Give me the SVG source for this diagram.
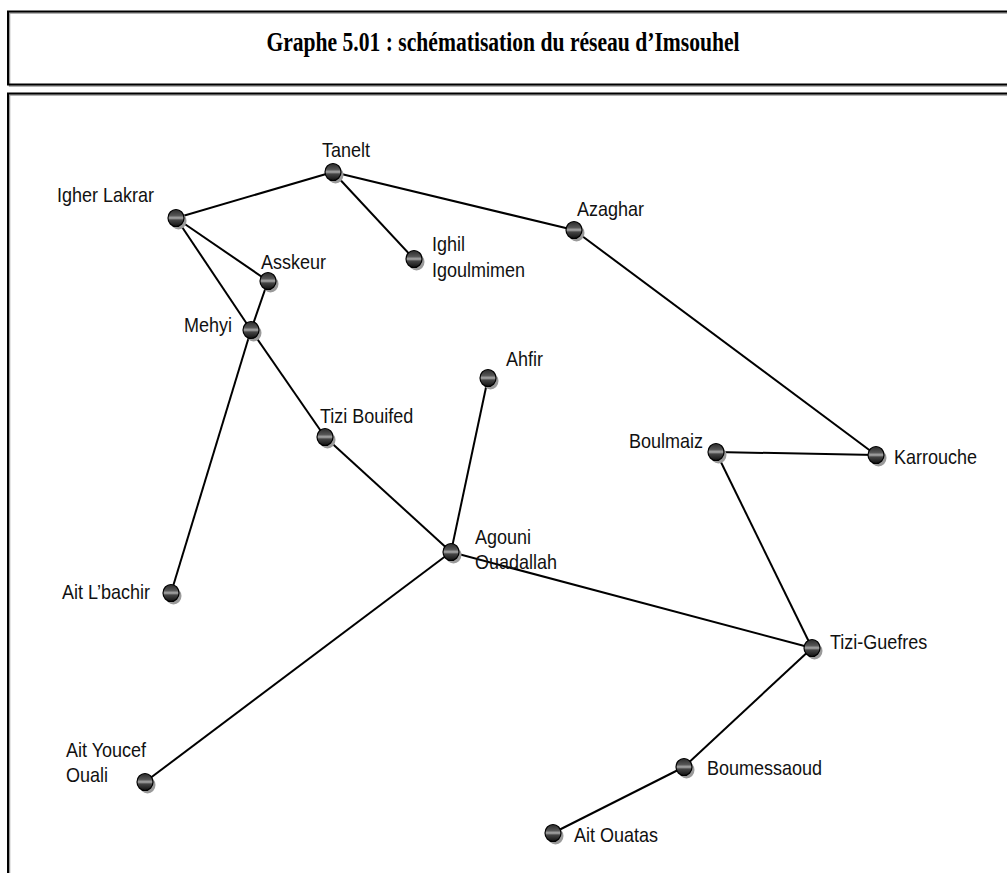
<svg xmlns="http://www.w3.org/2000/svg" width="1007" height="873" viewBox="0 0 1007 873">
<style>
.frame{fill:none;stroke:#000;stroke-width:2}
.frameS{fill:none;stroke:#999;stroke-width:1.5}
.title{font-family:"Liberation Serif","Times New Roman",serif;font-weight:bold;font-size:27px;fill:#000}
.lbl{font-family:"Liberation Sans",Arial,sans-serif;font-size:20px;fill:#111}
#edges line{stroke:#000;stroke-width:2}
.sh{fill:#9a9a9a}
.ball{fill:url(#g);stroke:#000;stroke-width:1.2}
</style>
<defs>
<linearGradient id="g" x1="0" y1="0" x2="0" y2="1">
<stop offset="0" stop-color="#2a2a2a"/>
<stop offset="0.35" stop-color="#555"/>
<stop offset="0.5" stop-color="#aaa"/>
<stop offset="0.62" stop-color="#444"/>
<stop offset="1" stop-color="#111"/>
</linearGradient>
<g id="node"><ellipse class="sh" cx="2.5" cy="3" rx="8" ry="8.5"/><ellipse class="ball" cx="0" cy="0" rx="8" ry="8.5"/></g>
</defs>
<rect width="1007" height="873" fill="#fff"/>
<g id="frame">
<rect class="frameS" x="9.5" y="13" width="1010" height="73"/>
<rect class="frame" x="8" y="11.5" width="1010" height="73"/>
<rect class="frameS" x="9.5" y="95" width="1010" height="800"/>
<rect class="frame" x="8" y="93.5" width="1010" height="800"/>
<text class="title" transform="translate(503,51) scale(0.8,1)" text-anchor="middle">Graphe 5.01 : schématisation du réseau d’Imsouhel</text>
</g>
<g id="edges">
<line x1="176" y1="218" x2="333" y2="172"/>
<line x1="333" y1="172" x2="574" y2="230"/>
<line x1="333" y1="172" x2="414" y2="259"/>
<line x1="176" y1="218" x2="268" y2="281"/>
<line x1="176" y1="218" x2="251" y2="330"/>
<line x1="268" y1="281" x2="251" y2="330"/>
<line x1="251" y1="330" x2="325" y2="437"/>
<line x1="251" y1="330" x2="171" y2="593"/>
<line x1="574" y1="230" x2="876" y2="455"/>
<line x1="876" y1="455" x2="716" y2="452"/>
<line x1="716" y1="452" x2="812" y2="648"/>
<line x1="325" y1="437" x2="451" y2="552"/>
<line x1="488" y1="378" x2="451" y2="552"/>
<line x1="451" y1="552" x2="812" y2="648"/>
<line x1="451" y1="552" x2="145" y2="782"/>
<line x1="812" y1="648" x2="684" y2="767"/>
<line x1="684" y1="767" x2="553" y2="833"/>
</g>
<g id="n-tanelt"><use href="#node" x="333" y="172"/><text class="lbl" transform="translate(322,157) scale(0.9,1)">Tanelt</text></g>
<g id="n-igher"><use href="#node" x="176" y="218"/><text class="lbl" transform="translate(57,202) scale(0.9,1)">Igher Lakrar</text></g>
<g id="n-asskeur"><use href="#node" x="268" y="281"/><text class="lbl" transform="translate(261,269) scale(0.9,1)">Asskeur</text></g>
<g id="n-ighil"><use href="#node" x="414" y="259"/><text class="lbl" transform="translate(432,251) scale(0.9,1)">Ighil</text><text class="lbl" transform="translate(432,277) scale(0.9,1)">Igoulmimen</text></g>
<g id="n-azaghar"><use href="#node" x="574" y="230"/><text class="lbl" transform="translate(577,216) scale(0.9,1)">Azaghar</text></g>
<g id="n-mehyi"><use href="#node" x="251" y="330"/><text class="lbl" transform="translate(184,332) scale(0.9,1)">Mehyi</text></g>
<g id="n-ahfir"><use href="#node" x="488" y="378"/><text class="lbl" transform="translate(506,366) scale(0.9,1)">Ahfir</text></g>
<g id="n-tizibouifed"><use href="#node" x="325" y="437"/><text class="lbl" transform="translate(320,423) scale(0.9,1)">Tizi Bouifed</text></g>
<g id="n-boulmaiz"><use href="#node" x="716" y="452"/><text class="lbl" transform="translate(629,448) scale(0.9,1)">Boulmaiz</text></g>
<g id="n-karrouche"><use href="#node" x="876" y="455"/><text class="lbl" transform="translate(894,464) scale(0.9,1)">Karrouche</text></g>
<g id="n-agouni"><use href="#node" x="451" y="552"/><text class="lbl" transform="translate(475,544) scale(0.9,1)">Agouni</text><text class="lbl" transform="translate(475,569) scale(0.9,1)">Ouadallah</text></g>
<g id="n-aitlbachir"><use href="#node" x="171" y="593"/><text class="lbl" transform="translate(62,599) scale(0.9,1)">Ait L’bachir</text></g>
<g id="n-tiziguefres"><use href="#node" x="812" y="648"/><text class="lbl" transform="translate(830,649) scale(0.9,1)">Tizi-Guefres</text></g>
<g id="n-aityoucef"><use href="#node" x="145" y="782"/><text class="lbl" transform="translate(66,757) scale(0.9,1)">Ait Youcef</text><text class="lbl" transform="translate(66,782) scale(0.9,1)">Ouali</text></g>
<g id="n-boumessaoud"><use href="#node" x="684" y="767"/><text class="lbl" transform="translate(707,775) scale(0.9,1)">Boumessaoud</text></g>
<g id="n-aitouatas"><use href="#node" x="553" y="833"/><text class="lbl" transform="translate(574,842) scale(0.9,1)">Ait Ouatas</text></g>
</svg>
